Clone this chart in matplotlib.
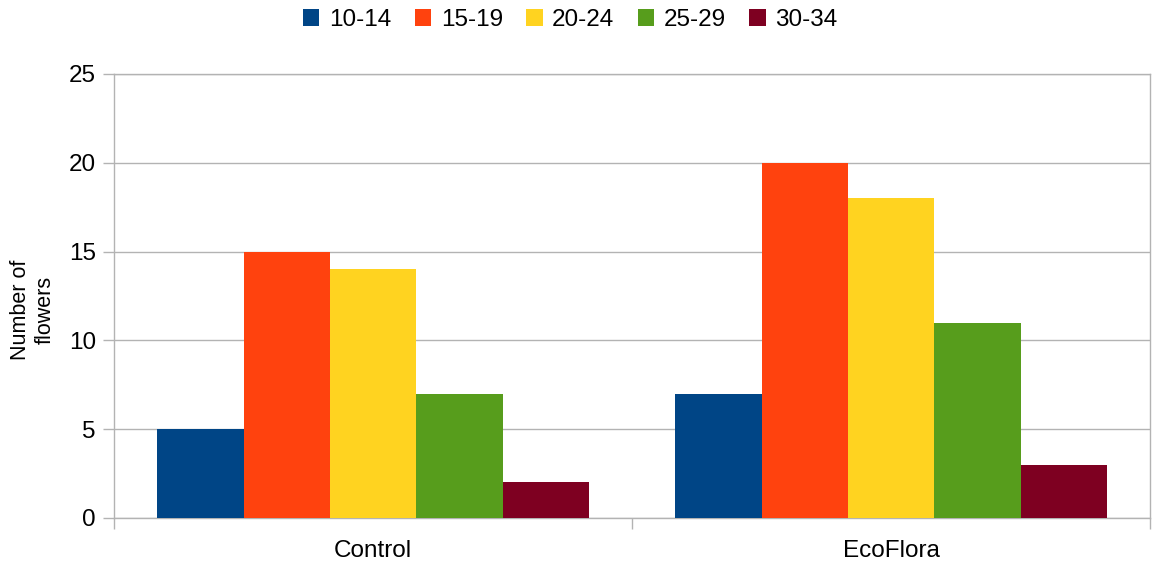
import matplotlib
matplotlib.use('Agg')
import matplotlib.pyplot as plt
import numpy as np

# Données
groupes = ['Control', 'EcoFlora']
classes = ['10-14', '15-19', '20-24', '25-29', '30-34']
v_10_14 = [5, 7]
v_15_19 = [15, 20]
v_20_24 = [14, 18]
v_25_29 = [7, 11]
v_30_34 = [2, 3]
valeurs = [v_10_14, v_15_19, v_20_24, v_25_29, v_30_34]
couleurs = ['#004586', '#ff420e', '#ffd320', '#579d1c', '#7e0021']

gris = '#b3b3b3'
plt.rcParams['font.family'] = ['Liberation Sans', 'DejaVu Sans']

fig = plt.figure(figsize=(11.52, 5.65), dpi=100)
ax = fig.add_axes([114/1152, 1-518/565, 1036/1152, 444/565])

largeur = 1/6
x = np.arange(len(groupes))
for j, (serie, c, lab) in enumerate(zip(valeurs, couleurs, classes)):
    ax.bar(x + (j - 2)*largeur, serie, largeur, color=c, label=lab,
           linewidth=0, zorder=3)

ax.set_xlim(-0.5, 1.5)
ax.set_ylim(0, 25)
ax.set_yticks([0, 5, 10, 15, 20, 25])
ax.grid(axis='y', color=gris, linewidth=1, zorder=0)

# ticks de séparation des catégories
ax.set_xticks([-0.5, 0.5, 1.5])
ax.set_xticklabels([])
ax.set_xticks(x, minor=True)
ax.set_xticklabels(groupes, minor=True)
ax.tick_params(axis='x', which='major', length=8, width=1, color=gris)
ax.tick_params(axis='x', which='minor', length=0, pad=16, labelsize=17.5)
ax.tick_params(axis='y', length=8, width=1, color=gris, pad=5, labelsize=17.5)

for s in ax.spines.values():
    s.set_color(gris)
    s.set_linewidth(1)

fig.text(33/1152, 1-310/565, 'Number of\nflowers', rotation=90, ha='center',
         va='center', multialignment='center', fontsize=15.5)

fig.legend(loc='center', bbox_to_anchor=(0.495, 1-20/565), ncol=5,
           frameon=False, fontsize=17.5, handlelength=0.68, handleheight=0.68,
           handletextpad=0.4, columnspacing=0.95, borderaxespad=0)

fig.savefig('out.png', dpi=100)
